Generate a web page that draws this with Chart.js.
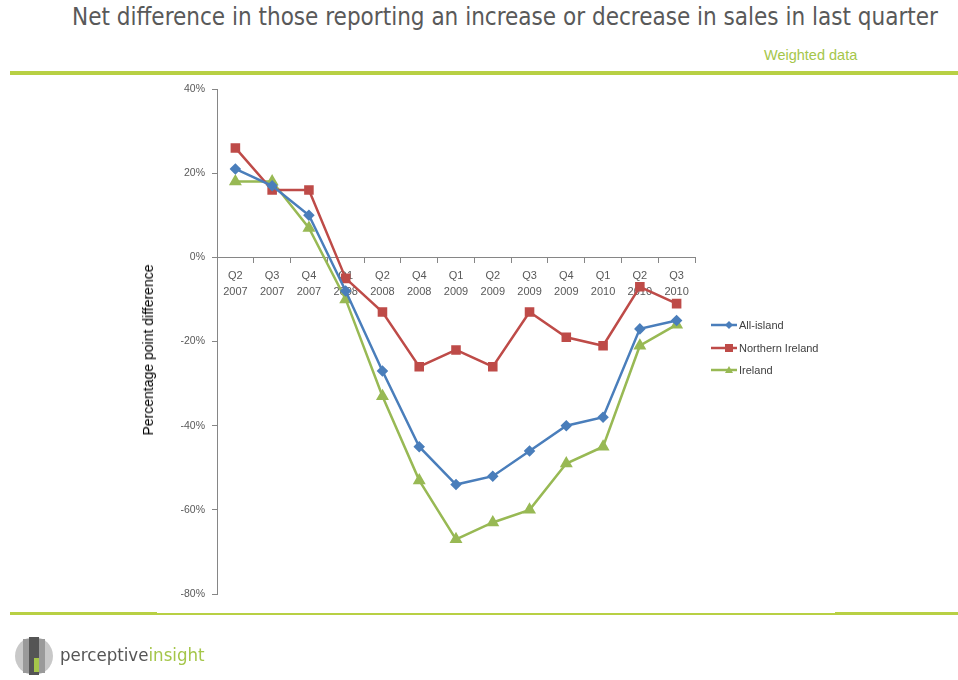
<!DOCTYPE html>
<html lang="en">
<head>
    <meta charset="UTF-8">
    <title>Net difference in sales</title>
    <script src="https://cdn.jsdelivr.net/npm/chart.js"></script>
    <style>
        body {
            margin: 0;
            width: 958px;
            height: 680px;
            position: relative;
            background: #fff;
            font-family: "Liberation Sans", Arial, sans-serif;
            overflow: hidden;
        }
        #title {
            position: absolute;
            left: 72px;
            top: 3px;
            font-family: "DejaVu Sans", sans-serif;
            font-stretch: condensed;
            font-size: 24px;
            color: #595959;
            white-space: nowrap;
        }
        #weighted {
            position: absolute;
            left: 764px;
            top: 47px;
            font-size: 14.5px;
            color: #a5c64a;
        }
        .rule { position: absolute; background: #b8d044; }
        #yTitle {
            position: absolute;
            left: 148px;
            top: 350px;
            transform: translate(-50%, -50%) rotate(-90deg);
            font-size: 14px;
            color: #000;
            white-space: nowrap;
        }
        #legend {
            position: absolute;
            left: 711px;
            top: 314px;
            font-size: 11px;
            color: #404040;
        }
        #legend div { height: 22.5px; display: flex; align-items: center; }
        #legend svg { margin-right: 2px; }
        #chartCanvas { position: absolute; left: 0; top: 0; }
        #logo { position: absolute; left: 14px; top: 636px; width: 40px; height: 40px; }
        #logoText {
            position: absolute;
            left: 60px;
            top: 644px;
            font-family: "DejaVu Sans", sans-serif;
            font-stretch: condensed;
            font-size: 18.5px;
            color: #555;
        }
        #logoText span { color: #a5c64a; }
    </style>
</head>
<body>
    <div id="title">Net difference in those reporting an increase or decrease in sales in last quarter</div>
    <div id="weighted">Weighted data</div>
    <div class="rule" style="left:10px;top:71px;width:948px;height:4px;"></div>
    <div class="rule" style="left:10px;top:612px;width:147px;height:3px;"></div>
    <div class="rule" style="left:157px;top:613px;width:678px;height:2px;"></div>
    <div class="rule" style="left:835px;top:612px;width:123px;height:3px;"></div>

    <canvas id="chartCanvas" width="958" height="680"></canvas>
    <div id="yTitle">Percentage point difference</div>

    <div id="legend"></div>

    <svg id="logo" viewBox="0 0 40 40">
        <circle cx="20" cy="20" r="19" fill="#c8c8c8"/>
        <rect x="9" y="3" width="6" height="34" fill="#9a9a9a"/>
        <rect x="15" y="1" width="10" height="38" fill="#555"/>
        <rect x="25" y="3" width="6" height="34" fill="#9a9a9a"/>
        <rect x="20" y="22" width="5" height="14" fill="#a5c64a"/>
    </svg>
    <div id="logoText">perceptive<span>insight</span></div>

    <script>
        const quarters = [
            ['Q2', '2007'], ['Q3', '2007'], ['Q4', '2007'], ['Q1', '2008'], ['Q2', '2008'],
            ['Q4', '2008'], ['Q1', '2009'], ['Q2', '2009'], ['Q3', '2009'], ['Q4', '2009'],
            ['Q1', '2010'], ['Q2', '2010'], ['Q3', '2010']
        ];
        const allIsland = [21, 17, 10, -8, -27, -45, -54, -52, -46, -40, -38, -17, -15];
        const northernIreland = [26, 16, 16, -5, -13, -26, -22, -26, -13, -19, -21, -7, -11];
        const ireland = [18, 18, 7, -10, -33, -53, -67, -63, -60, -49, -45, -21, -16];
        const yTicks = [-80, -60, -40, -20, 0, 20, 40];

        const series = [
            { label: 'All-island', data: allIsland, color: '#4a7ebb', style: 'rectRot', r: 4 },
            { label: 'Northern Ireland', data: northernIreland, color: '#be4b48', style: 'rect', r: 5 },
            { label: 'Ireland', data: ireland, color: '#98b954', style: 'triangle', r: 5 }
        ];

        // html legend
        const legend = document.getElementById('legend');
        series.forEach(s => {
            let mark = '';
            if (s.style === 'rectRot') mark = '<polygon points="18,1 22,5 18,9 14,5" fill="' + s.color + '"/>';
            if (s.style === 'rect') mark = '<rect x="14" y="1" width="8" height="8" fill="' + s.color + '"/>';
            if (s.style === 'triangle') mark = '<polygon points="18,1 22,8 14,8" fill="' + s.color + '"/>';
            legend.innerHTML += '<div><svg width="26" height="10"><line x1="0" y1="5" x2="26" y2="5" stroke="' +
                s.color + '" stroke-width="2.5"/>' + mark + '</svg>' + s.label + '</div>';
        });

        new Chart(document.getElementById('chartCanvas'), {
            type: 'line',
            data: {
                labels: quarters,
                datasets: series.map(s => ({
                    label: s.label,
                    data: s.data,
                    borderColor: s.color,
                    backgroundColor: s.color,
                    borderWidth: 2.5,
                    pointStyle: s.style,
                    pointRadius: s.r,
                    pointHoverRadius: s.r,
                    tension: 0
                }))
            },
            options: {
                responsive: false,
                animation: false,
                layout: { padding: { left: 130, top: 89, right: 263, bottom: 86 } },
                plugins: { legend: { display: false }, tooltip: { enabled: false } },
                scales: {
                    x: {
                        position: { y: 0 },
                        offset: true,
                        grid: { offset: true, drawOnChartArea: false, tickLength: 5, color: '#868686' },
                        border: { color: '#868686' },
                        ticks: {
                            color: '#595959',
                            font: { size: 11, family: 'Liberation Sans', lineHeight: 1.45 },
                            maxRotation: 0,
                            padding: 6
                        }
                    },
                    y: {
                        min: -80,
                        max: 40,
                        afterFit: scale => { scale.width = 87; },
                        afterBuildTicks: scale => { scale.ticks = yTicks.map(v => ({ value: v })); },
                        grid: { drawOnChartArea: false, tickLength: 5, color: '#868686' },
                        border: { color: '#868686' },
                        ticks: {
                            color: '#595959',
                            font: { size: 10.5, family: 'Liberation Sans' },
                            padding: 7,
                            callback: v => v + '%'
                        }
                    }
                }
            }
        });
    </script>
</body>
</html>
